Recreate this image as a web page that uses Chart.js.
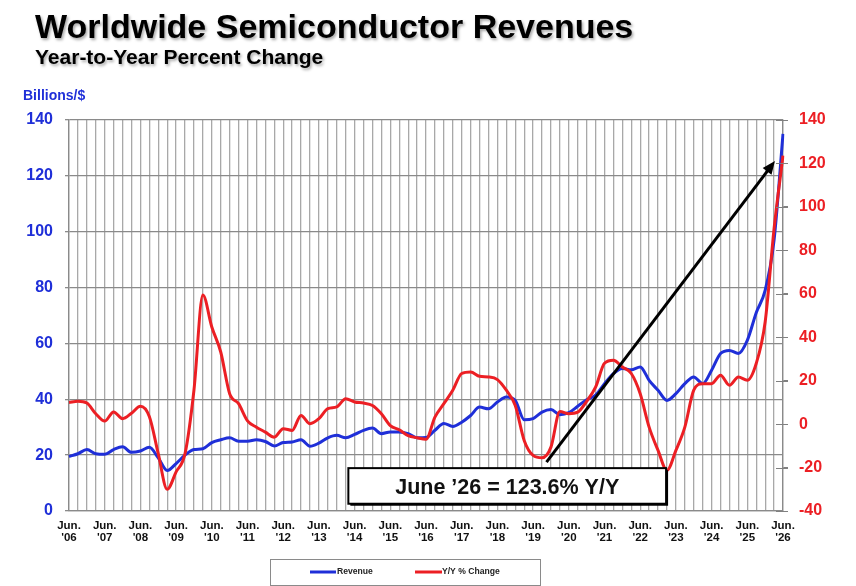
<!DOCTYPE html>
<html><head><meta charset="utf-8">
<script src="https://cdn.jsdelivr.net/npm/chart.js@4.4.1/dist/chart.umd.min.js"></script>
<style>
html,body{margin:0;padding:0;background:#fff;width:856px;height:586px;overflow:hidden;}
canvas{position:absolute;left:0;top:0;}
</style></head><body>
<canvas id="c" width="856" height="586" style="width:856px;height:586px"></canvas>
<script>
// ---- data ----
const tickYears = ["'06","'07","'08","'09","'10","'11","'12","'13","'14","'15","'16","'17","'18","'19","'20","'21","'22","'23","'24","'25","'26"];
const quarterMonths = ["Jun.","Sep.","Dec.","Mar."];
// quarterly, from Jun '06 to Jun '26 (billions of dollars)
const revenue = [19.5,20.5,22,20.5,20.3,22,23,21,21.5,22.8,
  19,14.5,17,20,22,22.3,24.5,25.5,26.2,25,
  25,25.5,24.9,23.3,24.5,24.7,25.5,23.2,24.3,26.2,
  27.1,26.2,27.4,28.9,29.7,27.7,28.3,28.3,27.7,26.2,
  26.3,28.9,31.3,30.3,31.8,34.2,37.2,36.6,39,40.8,
  39.6,32.7,33.1,35.4,36.3,34.5,35.2,37.5,39.8,41.5,
  45.6,49.2,51,50.6,51.6,46.8,43.2,39.6,42,45.6,
  48,45.6,50.4,56.4,57.5,56.4,61.1,71,79,97,135];
// year-to-year percent change
const yoyChange = [10,10.5,9.7,4.8,1.4,5.6,2.5,5,8.2,3.5,
  -13.6,-30,-22,-13.6,15.6,59.4,44.7,33.2,14,9.4,
  1.5,-1.4,-3.7,-6,-2.1,-2.9,4,0.2,2.5,7.1,
  7.9,11.7,10.2,9.7,8.6,4.8,-0.7,-2.6,-5.3,-6.3,
  -7,3.2,9.4,15.6,23.3,24,22,21.7,20.5,15.6,
  8.6,-7.5,-14.4,-15.5,-10.6,5.8,4.8,5.5,10.5,17,
  28,29.4,26.3,23.3,14,-1.4,-12.1,-21.3,-12.1,-1.4,
  15.6,18.6,18.6,22.5,17.9,21.7,20.2,27.9,47,90,123.6];
const leftAxis = {min:0, max:140, step:20};
const rightAxis = {min:-40, max:140, step:20};
const calloutText = "June \u201926 = 123.6% Y/Y";
// annotation anchors in data units (x = quarter index, y = billions)
const arrowFrom = [53.5, 17.5];
const arrowTo = [79.1, 125.3];
const calloutBox = [31.3, 15.35, 66.9, 2.6];

// category labels (quarters)
const labels = [];
for (let i = 0; i < tickYears.length; i++) {
  for (let k = 0; k < 4; k++) {
    if (i === tickYears.length - 1 && k > 0) break;
    labels.push(quarterMonths[k] + " " + tickYears[i]);
  }
}

const FONT = '"Liberation Sans", Arial, Helvetica, sans-serif';
const BLUE = '#1f2fd8';
const RED = '#ec1f24';

const decor = {
  id: 'decor',
  beforeDraw(chart) {
    const ctx = chart.ctx;
    ctx.save();
    ctx.fillStyle = '#fff';
    ctx.fillRect(0, 0, chart.width, chart.height);
    ctx.textAlign = 'left';
    ctx.textBaseline = 'alphabetic';
    ctx.shadowColor = 'rgba(0,0,0,0.35)';
    ctx.shadowBlur = 3; ctx.shadowOffsetX = 1.5; ctx.shadowOffsetY = 1.5;
    ctx.fillStyle = '#000';
    ctx.font = 'bold 34px ' + FONT;
    ctx.fillText('Worldwide Semiconductor Revenues', 35, 38);
    ctx.font = 'bold 21px ' + FONT;
    ctx.fillText('Year-to-Year Percent Change', 35, 64);
    ctx.shadowColor = 'transparent';
    ctx.fillStyle = BLUE;
    ctx.font = 'bold 14px ' + FONT;
    ctx.fillText('Billions/$', 23, 100);
    ctx.restore();
  },
  afterDatasetsDraw(chart) {
    const ctx = chart.ctx;
    const xs = chart.scales.x, ys = chart.scales.y, y2 = chart.scales.y2;
    ctx.save();
    // right axis tick marks crossing the border
    ctx.strokeStyle = '#808080'; ctx.lineWidth = 1;
    for (let v = rightAxis.min; v <= rightAxis.max; v += rightAxis.step) {
      const py = Math.round(y2.getPixelForValue(v)) + 0.5;
      ctx.beginPath(); ctx.moveTo(chart.chartArea.right - 7, py); ctx.lineTo(chart.chartArea.right + 5, py); ctx.stroke();
    }
    // arrow
    const ax1 = xs.getPixelForValue(arrowFrom[0]), ay1 = ys.getPixelForValue(arrowFrom[1]);
    const ax2 = xs.getPixelForValue(arrowTo[0]), ay2 = ys.getPixelForValue(arrowTo[1]);
    const ang = Math.atan2(ay2 - ay1, ax2 - ax1);
    const hl = 13, hw = 5.5;
    ctx.strokeStyle = '#000'; ctx.fillStyle = '#000'; ctx.lineWidth = 3;
    ctx.beginPath(); ctx.moveTo(ax1, ay1);
    ctx.lineTo(ax2 - Math.cos(ang) * hl * 0.8, ay2 - Math.sin(ang) * hl * 0.8); ctx.stroke();
    ctx.beginPath();
    ctx.moveTo(ax2, ay2);
    ctx.lineTo(ax2 - Math.cos(ang) * hl - Math.sin(ang) * hw, ay2 - Math.sin(ang) * hl + Math.cos(ang) * hw);
    ctx.lineTo(ax2 - Math.cos(ang) * hl + Math.sin(ang) * hw, ay2 - Math.sin(ang) * hl - Math.cos(ang) * hw);
    ctx.closePath(); ctx.fill();
    // callout box
    const bx1 = xs.getPixelForValue(calloutBox[0]), by1 = ys.getPixelForValue(calloutBox[1]);
    const bx2 = xs.getPixelForValue(calloutBox[2]), by2 = ys.getPixelForValue(calloutBox[3]);
    ctx.fillStyle = '#000';
    ctx.fillRect(bx1 + 2, by1 + 2, bx2 - bx1, by2 - by1);
    ctx.fillStyle = '#fff';
    ctx.fillRect(bx1, by1, bx2 - bx1, by2 - by1);
    ctx.strokeStyle = '#000'; ctx.lineWidth = 2;
    ctx.strokeRect(bx1, by1, bx2 - bx1, by2 - by1);
    ctx.fillStyle = '#111';
    ctx.font = 'bold 21.5px ' + FONT;
    ctx.textAlign = 'center'; ctx.textBaseline = 'alphabetic';
    ctx.fillText(calloutText, (bx1 + bx2) / 2, by1 + 26);
    ctx.restore();
  },
  afterDraw(chart) {
    const ctx = chart.ctx;
    ctx.save();
    // legend
    ctx.fillStyle = '#fff';
    ctx.strokeStyle = '#8a8a8a'; ctx.lineWidth = 1;
    ctx.fillRect(270.5, 559.5, 270, 26);
    ctx.strokeRect(270.5, 559.5, 270, 26);
    ctx.lineWidth = 3;
    ctx.strokeStyle = BLUE;
    ctx.beginPath(); ctx.moveTo(310, 572); ctx.lineTo(336, 572); ctx.stroke();
    ctx.strokeStyle = RED;
    ctx.beginPath(); ctx.moveTo(415, 572); ctx.lineTo(442, 572); ctx.stroke();
    ctx.fillStyle = '#222';
    ctx.font = 'bold 8.6px ' + FONT;
    ctx.textBaseline = 'middle'; ctx.textAlign = 'left';
    ctx.fillText(chart.data.datasets[0].label, 337, 572);
    ctx.fillText(chart.data.datasets[1].label, 442, 572);
    ctx.restore();
  }
};

new Chart(document.getElementById('c'), {
  type: 'line',
  data: {
    labels: labels,
    datasets: [
      { label: 'Revenue', data: revenue, yAxisID: 'y', borderColor: BLUE, borderWidth: 3,
        pointRadius: 0, cubicInterpolationMode: 'monotone', fill: false, order: 2 },
      { label: 'Y/Y % Change', data: yoyChange, yAxisID: 'y2', borderColor: RED, borderWidth: 3,
        pointRadius: 0, cubicInterpolationMode: 'monotone', fill: false, order: 1 }
    ]
  },
  options: {
    responsive: false,
    animation: false,
    devicePixelRatio: 1,
    layout: { padding: { top: 120, left: 0, right: 0, bottom: 0 } },
    plugins: { legend: { display: false }, tooltip: { enabled: false }, title: { display: false } },
    scales: {
      x: {
        type: 'category',
        offset: false,
        grid: { color: '#a8a8a8', lineWidth: 1.3, drawTicks: false },
        border: { color: '#8a8a8a', width: 1.3 },
        ticks: {
          autoSkip: false, maxRotation: 0, minRotation: 0, padding: 9,
          color: '#111',
          font: { family: FONT, size: 11.5, weight: 'bold', lineHeight: 1.05 },
          callback: (v, i) => (i % 4 === 0 ? [quarterMonths[0], tickYears[i / 4]] : '')
        },
        afterFit: s => { s.height = 75; }
      },
      y: {
        position: 'left',
        min: leftAxis.min, max: leftAxis.max,
        grid: { color: '#8a8a8a', lineWidth: 1.3, tickLength: 4 },
        border: { color: '#8a8a8a', width: 1.3 },
        ticks: { stepSize: leftAxis.step, padding: 12, color: BLUE,
          font: { family: FONT, size: 16, weight: 'bold' } },
        afterFit: s => { s.width = 69; }
      },
      y2: {
        position: 'right',
        min: rightAxis.min, max: rightAxis.max,
        grid: { drawOnChartArea: false, color: '#808080', tickLength: 5 },
        border: { color: '#8a8a8a', width: 1.3 },
        ticks: { stepSize: rightAxis.step, padding: 11, color: RED,
          font: { family: FONT, size: 16, weight: 'bold' } },
        afterFit: s => { s.width = 73; }
      }
    }
  },
  plugins: [decor]
});
</script>
</body></html>
